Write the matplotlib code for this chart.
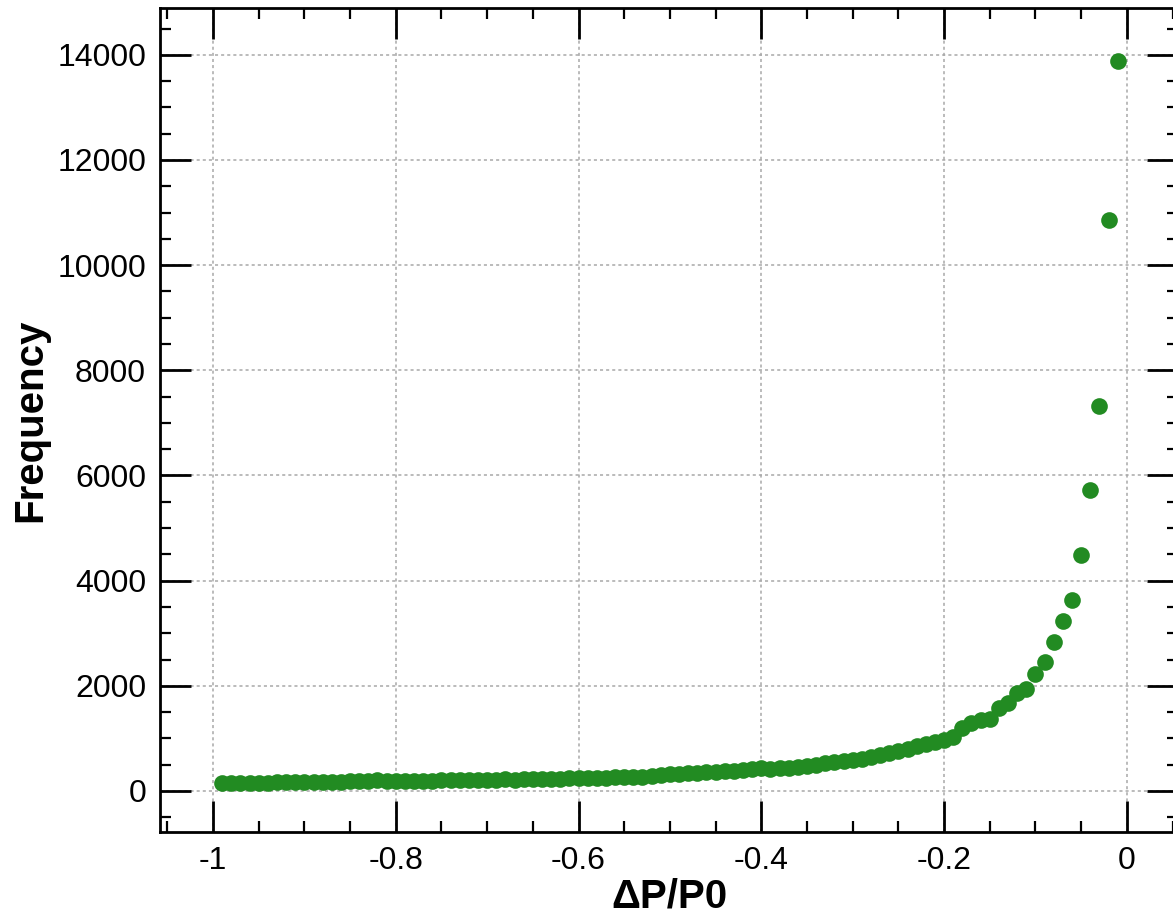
import matplotlib
matplotlib.use("Agg")
import matplotlib.pyplot as plt
import matplotlib.ticker as mticker
import numpy as np

# bin centres of dP/P0 (-0.99 ... -0.01)
dp_p0 = np.round(np.arange(-0.99, -0.005, 0.01), 2)

# frequency, left to right
frequency = [
    150, 145, 150, 160, 155,
    160, 170, 165, 175, 170,
    175, 170, 180, 175, 185,
    195, 185, 200, 190, 195,
    190, 185, 195, 190, 200,
    200, 210, 205, 215, 210,
    215, 220, 210, 225, 220,
    225, 235, 230, 245, 240,
    250, 255, 250, 260, 265,
    270, 275, 290, 305, 315,
    320, 335, 345, 355, 365,
    375, 385, 400, 415, 430,
    420, 430, 440, 450, 470,
    500, 530, 545, 565,
    590, 610, 640, 680, 730,
    760, 800, 850, 890, 930,
    970, 1030, 1190, 1290, 1350,
    1370, 1570, 1670, 1860, 1940,
    2230, 2450, 2840, 3240, 3640,
    4490, 5730, 7330, 10860, 13880,
]

plt.rcParams["font.family"] = ["Liberation Sans", "DejaVu Sans"]
plt.rcParams["axes.unicode_minus"] = False

fig = plt.figure(figsize=(11.73, 9.18), dpi=100)
ax = fig.add_axes([160 / 1173, 1 - 832 / 918, (1178 - 160) / 1173, (832 - 8) / 918])

ax.plot(dp_p0, frequency, "o", color="#228b22", markersize=12,
        markeredgewidth=0, zorder=3)

ax.set_xlim(-1.058, 0.056)
ax.set_ylim(-780, 14890)

ax.xaxis.set_major_locator(mticker.MultipleLocator(0.2))
ax.xaxis.set_minor_locator(mticker.MultipleLocator(0.05))
ax.yaxis.set_major_locator(mticker.MultipleLocator(2000))
ax.yaxis.set_minor_locator(mticker.MultipleLocator(500))


def fmt_x(v, pos):
    v = round(v, 3)
    if v == 0:
        return "0"
    return f"{v:g}"


ax.xaxis.set_major_formatter(mticker.FuncFormatter(fmt_x))

# Origin style: inward ticks on all four sides
ax.tick_params(which="both", direction="in", top=True, right=True)
ax.tick_params(which="major", length=22, width=2, labelsize=23, pad=10)
ax.tick_params(which="minor", length=8, width=1.6)
for s in ax.spines.values():
    s.set_linewidth(2)

ax.grid(True, which="major", color="#a8a8a8", linestyle=(0, (2, 2)), linewidth=1.1)
ax.set_axisbelow(True)

ax.set_xlabel("ΔP/P0", fontsize=29, fontweight="bold", labelpad=1)
ax.set_ylabel("Frequency", fontsize=29, fontweight="bold", labelpad=6)

fig.savefig("out.png", dpi=100)
